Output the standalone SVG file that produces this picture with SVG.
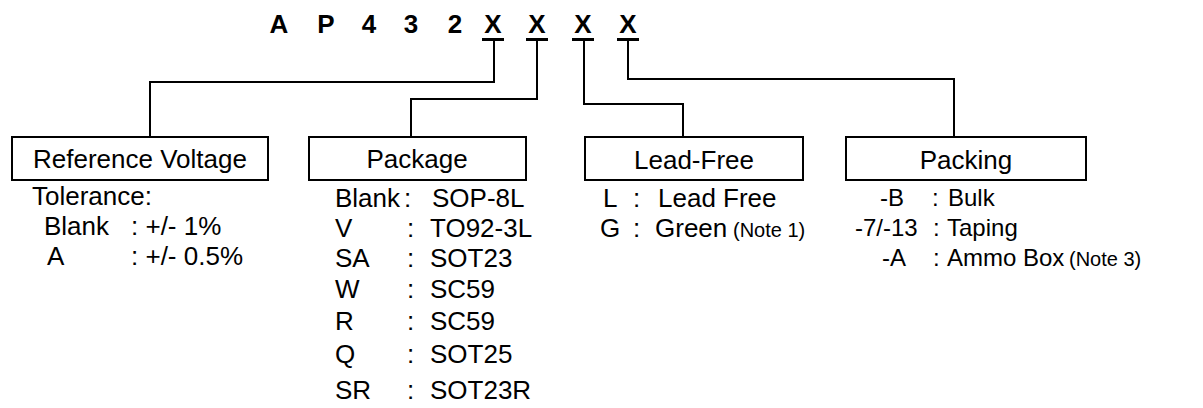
<svg xmlns="http://www.w3.org/2000/svg" width="1203" height="408" viewBox="0 0 1203 408">
<style>
text{font-family:"Liberation Sans",Arial,sans-serif;fill:#000;font-size:26px}
.t{font-weight:bold;text-anchor:middle}
.c{text-anchor:middle}
.p{font-size:24px}
.n{font-size:20px}
.box{fill:#fff;stroke:#000;stroke-width:2}
.ln{fill:none;stroke:#000;stroke-width:2}
.ul{stroke:#000;stroke-width:3}
</style>
<rect width="1203" height="408" fill="#fff"/>
<g id="title">
<text class="t" x="279" y="33">A</text>
<text class="t" x="326" y="33">P</text>
<text class="t" x="369" y="33">4</text>
<text class="t" x="411" y="33">3</text>
<text class="t" x="455" y="33">2</text>
<text class="t" x="493" y="33">X</text>
<text class="t" x="537" y="33">X</text>
<text class="t" x="583" y="33">X</text>
<text class="t" x="628" y="33">X</text>
<line class="ul" x1="482" y1="39.5" x2="504" y2="39.5"/>
<line class="ul" x1="526" y1="39.5" x2="548" y2="39.5"/>
<line class="ul" x1="572" y1="39.5" x2="594" y2="39.5"/>
<line class="ul" x1="617" y1="39.5" x2="639" y2="39.5"/>
</g>
<g id="connectors">
<polyline class="ln" points="494,40 494,82 150,82 150,137"/>
<polyline class="ln" points="537,40 537,99 411,99 411,137"/>
<polyline class="ln" points="584,40 584,104 683,104 683,137"/>
<polyline class="ln" points="628,40 628,79 954,79 954,137"/>
</g>
<g id="reference-voltage">
<rect class="box" x="12" y="137" width="256" height="43"/>
<text class="c" x="140" y="168">Reference Voltage</text>
<text x="32" y="205">Tolerance:</text>
<text x="44" y="235">Blank</text><text x="131" y="235">: +/- 1%</text>
<text x="47" y="265">A</text><text x="131" y="265">: +/- 0.5%</text>
</g>
<g id="package">
<rect class="box" x="309" y="137" width="217" height="43"/>
<text class="c" x="417" y="168">Package</text>
<text x="335" y="207">Blank</text><text x="404" y="207">:</text><text x="432" y="207">SOP-8L</text>
<text x="335" y="237">V</text><text x="407" y="237">:</text><text x="430" y="237">TO92-3L</text>
<text x="335" y="267">SA</text><text x="407" y="267">:</text><text x="430" y="267">SOT23</text>
<text x="335" y="298">W</text><text x="407" y="298">:</text><text x="430" y="298">SC59</text>
<text x="335" y="330">R</text><text x="407" y="330">:</text><text x="430" y="330">SC59</text>
<text x="335" y="363">Q</text><text x="407" y="363">:</text><text x="430" y="363">SOT25</text>
<text x="335" y="399">SR</text><text x="407" y="399">:</text><text x="430" y="399">SOT23R</text>
</g>
<g id="lead-free">
<rect class="box" x="585" y="137" width="218" height="43"/>
<text class="c" x="694" y="169">Lead-Free</text>
<text x="603" y="207">L</text><text x="633" y="207">:</text><text x="658" y="207">Lead Free</text>
<text x="600" y="237">G</text><text x="633" y="237">:</text><text x="655" y="237">Green</text><text class="n" x="733" y="237">(Note 1)</text>
</g>
<g id="packing">
<rect class="box" x="846" y="137" width="240" height="43"/>
<text class="c" x="966" y="169">Packing</text>
<text class="p" x="880" y="206">-B</text><text class="p" x="932" y="206">:</text><text class="p" x="948" y="206">Bulk</text>
<text class="p" x="855" y="236">-7/-13</text><text class="p" x="933" y="236">:</text><text class="p" x="947" y="236">Taping</text>
<text class="p" x="882" y="266">-A</text><text class="p" x="933" y="266">:</text><text class="p" x="947" y="266">Ammo Box</text><text class="n" x="1069" y="266">(Note 3)</text>
</g>
</svg>
